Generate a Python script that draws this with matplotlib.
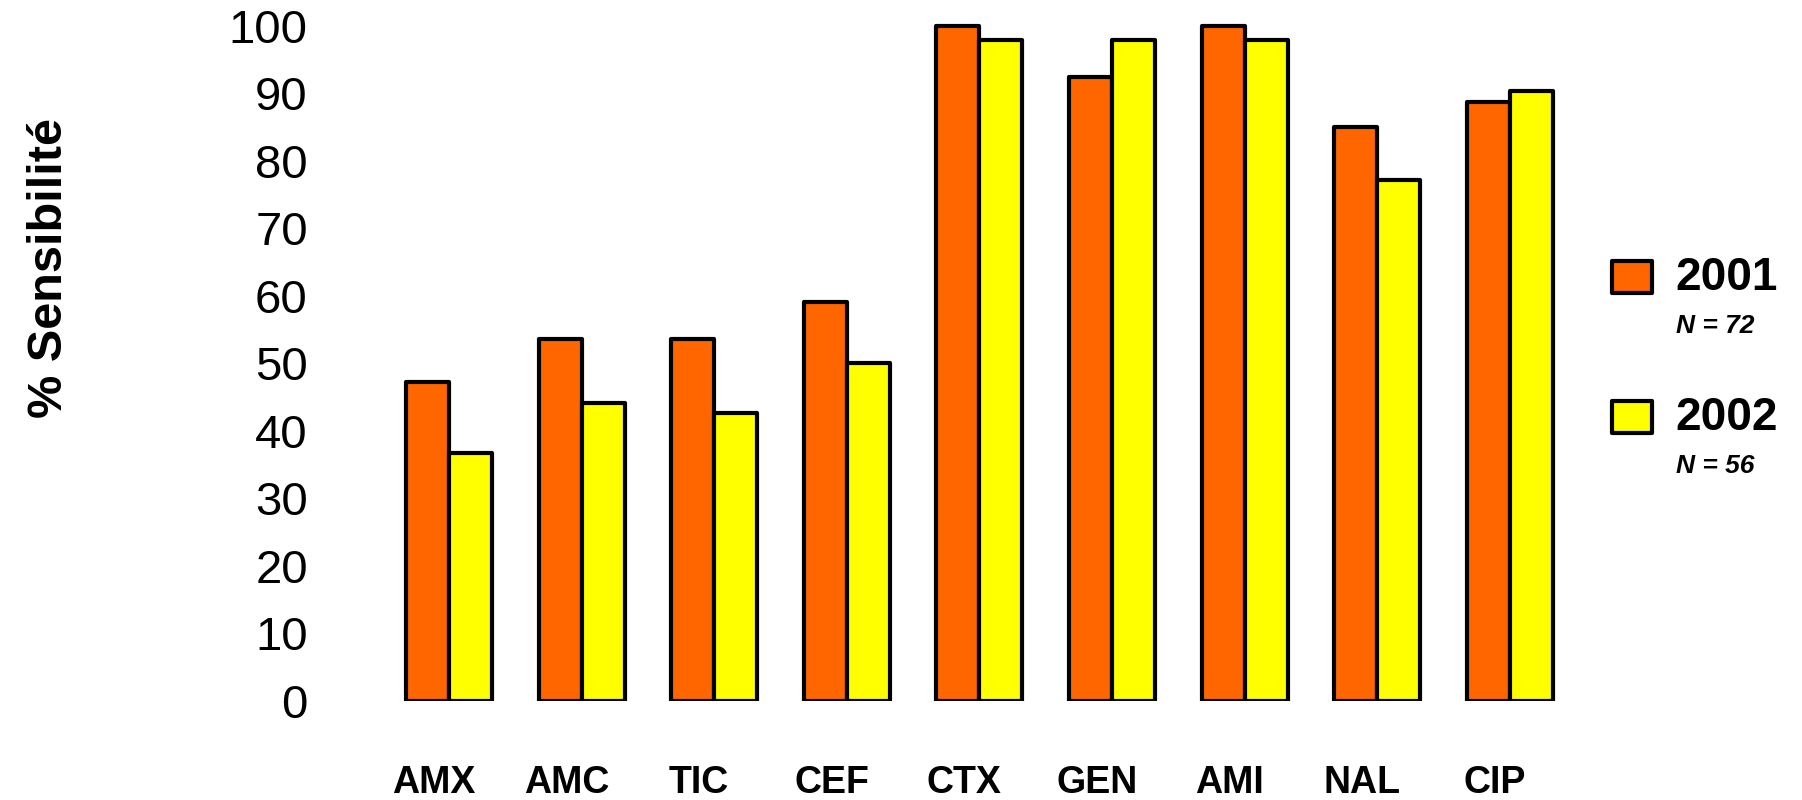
import matplotlib.pyplot as plt
import matplotlib.transforms as mtransforms
from matplotlib.patches import Rectangle
import numpy as np

plt.rcParams['font.family'] = ['Liberation Sans', 'DejaVu Sans']

antibiotics = ['AMX', 'AMC', 'TIC', 'CEF', 'CTX', 'GEN', 'AMI', 'NAL', 'CIP']
sens_2001 = [47.2, 53.6, 53.6, 59.0, 100.0, 92.4, 100.0, 85.0, 88.7]
sens_2002 = [36.7, 44.1, 42.6, 50.0, 97.9, 97.9, 97.9, 77.1, 90.4]
years = ['2001', '2002']
counts = ['N = 72', 'N = 56']
colors = ['#FF6600', '#FFFF00']

W, H = 1802, 800
fig = plt.figure(figsize=(W / 100, H / 100), dpi=100)

# axes laid out in pixels
ax_left, ax_right = 330, 1590
y0_px, px_per_unit = 700.7, 6.75
ymax = 104
ax = fig.add_axes([ax_left / W, (H - y0_px) / H,
                   (ax_right - ax_left) / W, ymax * px_per_unit / H])

x = np.arange(len(antibiotics))
group_px = 132.6
first_px = 449
xmin = -(first_px - ax_left) / group_px
ax.set_xlim(xmin, xmin + (ax_right - ax_left) / group_px)
ax.set_ylim(0, ymax)

w = 0.324
bar_kw = dict(width=w, edgecolor='black', linewidth=3.0, joinstyle='round')
ax.bar(x - w / 2, sens_2001, color=colors[0], **bar_kw)
ax.bar(x + w / 2, sens_2002, color=colors[1], **bar_kw)

for side in ['top', 'right', 'left', 'bottom']:
    ax.spines[side].set_visible(False)

ax.set_yticks(range(0, 101, 10))
ax.tick_params(axis='y', length=0, pad=16, labelsize=34)
ax.set_xticks(x)
ax.set_xticklabels(antibiotics, fontsize=27, fontweight='bold')
ax.tick_params(axis='x', length=0, pad=46)
shift = mtransforms.ScaledTranslation(-15 / 100, 0, fig.dpi_scale_trans)
for lbl in ax.get_xticklabels():
    lbl.set_transform(lbl.get_transform() + shift)

fig.text(50 / W, 1 - 268 / H, '% Sensibilité', rotation=90, fontsize=35,
         fontweight='bold', ha='center', va='center')

# legend built by hand: swatch, year, sample size
for i, (yr, n, c) in enumerate(zip(years, counts, colors)):
    cy = 277 + i * 140
    fig.add_artist(Rectangle((1612 / W, 1 - (cy + 16) / H), 40 / W, 32 / H,
                             transform=fig.transFigure, facecolor=c,
                             edgecolor='black', linewidth=3.0, joinstyle='round'))
    fig.text(1675 / W, 1 - (cy + 1) / H, yr, fontsize=33, fontweight='bold',
             ha='left', va='center')
    fig.text(1676 / W, 1 - (cy + 49) / H, n, fontsize=19, fontweight='bold',
             fontstyle='italic', ha='left', va='center')

fig.savefig('out.png', dpi=100)
